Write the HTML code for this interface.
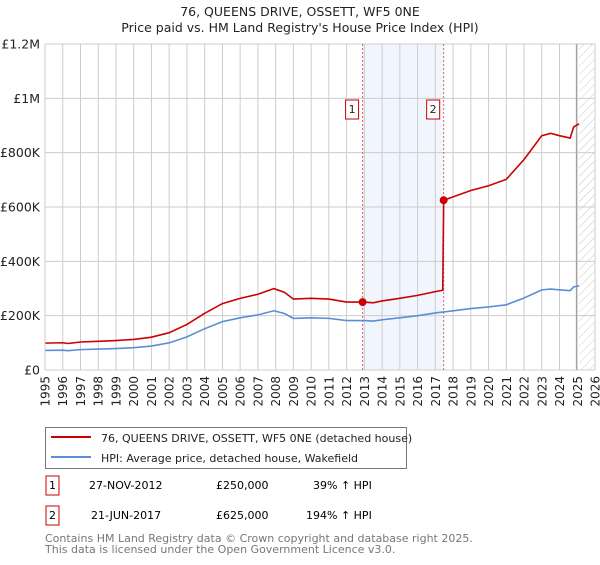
<!DOCTYPE html>
<html><head><meta charset="utf-8"><style>
body{margin:0;background:#fff;font-family:"Liberation Sans","DejaVu Sans",sans-serif;}
svg text{font-family:"DejaVu Sans","Liberation Sans",sans-serif;}
</style></head><body>
<svg id="c" width="600" height="560" xmlns="http://www.w3.org/2000/svg">
<defs><pattern id="hatch" width="6" height="6" patternUnits="userSpaceOnUse" patternTransform="rotate(45)"><line x1="0" y1="0" x2="0" y2="6" stroke="#bbb" stroke-width="0.8"/></pattern></defs>
<text x="300" y="16" text-anchor="middle" font-size="12.5" fill="#222">76, QUEENS DRIVE, OSSETT, WF5 0NE</text>
<text x="300" y="32" text-anchor="middle" font-size="12.5" fill="#222">Price paid vs. HM Land Registry's House Price Index (HPI)</text>
<g id="plot"></g>
<g>
<rect x="45.5" y="427.5" width="361" height="41" fill="#fff" stroke="#777"/>
<line x1="51" y1="437" x2="91" y2="437" stroke="#cc0000" stroke-width="2"/>
<text x="101" y="442" font-size="11" fill="#222">76, QUEENS DRIVE, OSSETT, WF5 0NE (detached house)</text>
<line x1="51" y1="457" x2="91" y2="457" stroke="#5b8fd4" stroke-width="2"/>
<text x="101" y="462" font-size="11" fill="#222">HPI: Average price, detached house, Wakefield</text>
</g>
<g>
<rect x="46" y="476" width="13" height="19" fill="#fff" stroke="#cc0000"/>
<text x="52.5" y="489" text-anchor="middle" font-size="11">1</text>
<text x="89" y="489" font-size="11">27-NOV-2012</text>
<text x="216" y="489" font-size="11">£250,000</text>
<text x="313" y="489" font-size="11">39% ↑ HPI</text>
</g>
<g>
<rect x="46" y="506" width="13" height="19" fill="#fff" stroke="#cc0000"/>
<text x="52.5" y="519" text-anchor="middle" font-size="11">2</text>
<text x="91" y="519" font-size="11">21-JUN-2017</text>
<text x="216" y="519" font-size="11">£625,000</text>
<text x="306" y="519" font-size="11">194% ↑ HPI</text>
</g>
<text x="45" y="542" font-size="11" fill="#777">Contains HM Land Registry data © Crown copyright and database right 2025.</text>
<text x="45" y="553" font-size="11" fill="#777">This data is licensed under the Open Government Licence v3.0.</text>
</svg>
<script>
const hpiYears=[1995,1996,1996.3,1997,1998,1999,2000,2001,2002,2003,2004,2005,2006,2007,2007.9,2008.5,2009,2010,2011,2012,2013,2013.5,2014,2015,2016,2017,2018,2019,2020,2021,2022,2023,2023.5,2024,2024.6,2024.8,2025.1];
const hpiValues=[72,73,71,75,77,79,82,88,100,122,152,178,192,203,218,208,190,192,190,182,182,180,185,192,200,210,218,226,232,240,265,295,298,295,292,306,310];
const saleDates=[2012.9,2017.47];
const salePrices=[250,625];
const yTicks=[0,200,400,600,800,1000,1200];
const yTickLabels=["£0","£200K","£400K","£600K","£800K","£1M","£1.2M"];
const xYears=[];for(let y=1995;y<=2026;y++)xYears.push(y);
const X0=45,X1=595,Y0=370,Y1=44;
const sx=y=>X0+(y-1995)/(2026-1995)*(X1-X0);
const sy=v=>Y0-v/1200*(Y0-Y1);
const NS="http://www.w3.org/2000/svg";
const g=document.getElementById('plot');
function el(t,a,p){const e=document.createElementNS(NS,t);for(const k in a)e.setAttribute(k,a[k]);(p||g).appendChild(e);return e;}
function hpiAt(d){for(let i=1;i<hpiYears.length;i++){if(d<=hpiYears[i]){const t=(d-hpiYears[i-1])/(hpiYears[i]-hpiYears[i-1]);return hpiValues[i-1]+t*(hpiValues[i]-hpiValues[i-1]);}}return hpiValues[hpiValues.length-1];}
// shaded span
let r=el('rect',{x:sx(saleDates[0]),y:Y1,width:sx(saleDates[1])-sx(saleDates[0]),height:Y0-Y1,fill:'#eef3fc',opacity:0.8});


// hatch
r=el('rect',{x:sx(2025.1),y:Y1,width:X1-sx(2025.1),height:Y0-Y1,fill:'url(#hatch)'});


xYears.forEach(y=>{
 const l=el('line',{x1:sx(y),x2:sx(y),y1:Y1,y2:Y0,stroke:'#ccc','stroke-width':1});
 
 
 const t=el('text',{x:0,y:0,'font-size':12,fill:'#222','text-anchor':'end',transform:`translate(${sx(y)+4.5},376) rotate(-90)`});
 t.textContent=y;
 
 
});
yTicks.forEach((v,i)=>{
 const l=el('line',{x1:X0,x2:X1,y1:sy(v),y2:sy(v),stroke:'#ccc','stroke-width':1});
 
 
 const t=el('text',{x:40,y:sy(v)+4.5,'font-size':12.5,fill:'#222','text-anchor':'end'});
 t.textContent=yTickLabels[i];
 
 
});
let vl=el('line',{x1:sx(2024.95),x2:sx(2024.95),y1:Y1,y2:Y0,stroke:'#999','stroke-width':1});


saleDates.forEach((d,i)=>{
 const l=el('line',{x1:sx(d),x2:sx(d),y1:Y1,y2:Y0,stroke:'#e06060','stroke-width':1,'stroke-dasharray':'2,2'});
 
 
});
// hpi line
let pts=hpiYears.map((y,i)=>sx(y)+','+sy(hpiValues[i])).join(' ');
let p=el('polyline',{points:pts,fill:'none',stroke:'#5b8fd4','stroke-width':1.6});


// property line
const propPts=[];
hpiYears.forEach((y,i)=>{
 let v;
 if(y<saleDates[1]) v=hpiValues[i]*salePrices[0]/hpiAt(saleDates[0]);
 else v=hpiValues[i]*salePrices[1]/hpiAt(saleDates[1]);
 if(y<saleDates[1]) propPts.push([y,v]);
 else propPts.push([y,v]);
});
const rat1=salePrices[0]/hpiAt(saleDates[0]);
const pre=propPts.filter(q=>q[0]<saleDates[1]);
const post=propPts.filter(q=>q[0]>=saleDates[1]);
const all=pre.concat([[saleDates[1]-0.05,hpiAt(saleDates[1])*rat1],[saleDates[1],salePrices[1]]]).concat(post);
p=el('polyline',{points:all.map(q=>sx(q[0])+','+sy(q[1])).join(' '),fill:'none',stroke:'#cc0000','stroke-width':1.6});


saleDates.forEach((d,i)=>{
 const c=el('circle',{cx:sx(d),cy:sy(salePrices[i]),r:4,fill:'#cc0000'});
 
 
 const b=el('rect',{x:sx(d)-17,y:100,width:13,height:19,fill:'#fff',stroke:'#cc0000'});
 
 
 const t=el('text',{x:sx(d)-10.5,y:113,'font-size':11,'text-anchor':'middle',fill:'#222'});
 t.textContent=i+1;
 
 
});
let ax=el('line',{x1:X0,x2:X0,y1:Y1,y2:Y0,stroke:'#ccc'});


</script>
</body></html>
